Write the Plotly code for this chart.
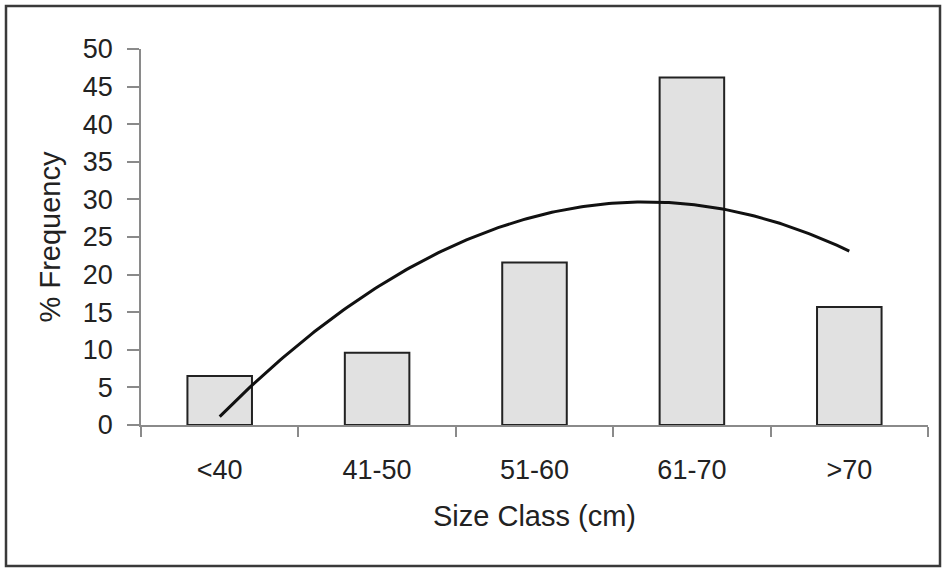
import numpy as np
import plotly.graph_objects as go

# Size-class frequency distribution
size_classes = ["<40", "41-50", "51-60", "61-70", ">70"]
pct_frequency = [6.5, 9.6, 21.6, 46.2, 15.7]
y_ticks = [0, 5, 10, 15, 20, 25, 30, 35, 40, 45, 50]

x_idx = np.arange(len(size_classes))

# Second-order polynomial trendline through the bar values
coef = np.polyfit(x_idx, pct_frequency, 2)
x_fit = np.linspace(x_idx[0], x_idx[-1], 200)
y_fit = np.polyval(coef, x_fit)

W, H = 943, 569
ML, MR, MT, MB = 141, 15, 49, 144
pw, ph = W - ML - MR, H - MT - MB


def px_to_paper_x(px):
    return (px - ML) / pw


def px_to_paper_y(py):
    return (H - MB - py) / ph


FONT = "Liberation Sans, Arial, sans-serif"

fig = go.Figure()
fig.add_trace(go.Bar(
    x=x_idx, y=pct_frequency,
    width=0.41,
    marker=dict(color="#e1e1e1", line=dict(color="#222222", width=2)),
    showlegend=False,
))
fig.add_trace(go.Scatter(
    x=x_fit, y=y_fit, mode="lines",
    line=dict(color="#111111", width=3),
    showlegend=False,
))

# outer frame around the whole chart
fig.add_shape(
    type="rect", xref="paper", yref="paper",
    x0=px_to_paper_x(6), x1=px_to_paper_x(940),
    y0=px_to_paper_y(566), y1=px_to_paper_y(6),
    line=dict(color="#3a3a3a", width=2.5), fillcolor="rgba(0,0,0,0)",
    layer="below",
)

fig.update_layout(
    width=W, height=H,
    margin=dict(l=ML, r=MR, t=MT, b=MB),
    paper_bgcolor="white", plot_bgcolor="white",
    font=dict(family=FONT, size=27, color="#222222"),
    bargap=0.59,
    xaxis=dict(
        range=[-0.5, 4.5],
        tickvals=list(x_idx), ticktext=size_classes,
        ticks="", ticklabelstandoff=20,
        showline=True, linecolor="#8a8a8a", linewidth=1.5,
        showgrid=False, zeroline=False,
        minor=dict(tickvals=[-0.5, 0.5, 1.5, 2.5, 3.5, 4.5], ticks="outside",
                   ticklen=10, tickcolor="#8a8a8a", tickwidth=1.5, showgrid=False),
        title=dict(text="Size Class (cm)", standoff=22, font=dict(size=29)),
        tickfont=dict(size=27),
    ),
    yaxis=dict(
        range=[0, 50], tickvals=y_ticks,
        ticks="outside", ticklen=12, tickcolor="#8a8a8a", tickwidth=1.5,
        showline=True, linecolor="#8a8a8a", linewidth=1.5,
        showgrid=False, zeroline=False,
        ticklabelstandoff=9,
        title=dict(text="% Frequency", standoff=14, font=dict(size=29)),
        tickfont=dict(size=27),
    ),
)

fig.write_html("out.html")
